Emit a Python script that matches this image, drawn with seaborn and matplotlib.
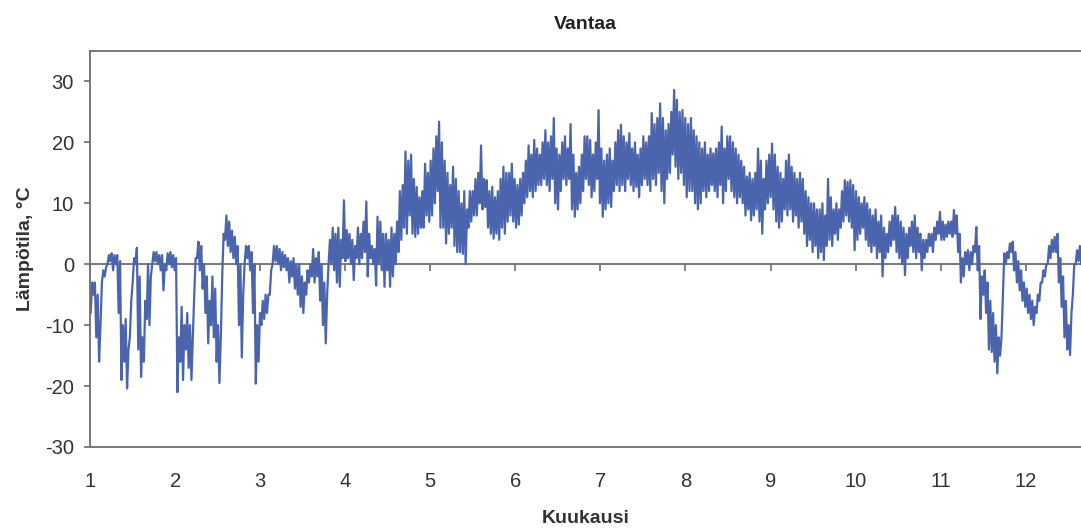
import matplotlib
matplotlib.use("Agg")
import matplotlib.pyplot as plt
import seaborn as sns
import numpy as np
import pandas as pd

# Daily low / high temperatures (°C), day 0 = 1 January
jan_lo = [-8, -5, -12, -16, -3, -2, 0, 0.5, -1, 0, -8, -19, -16, -20.4, -12, -3, 0, -14, -18.5, -16, -9, -10, 0, 0.5, 0, -1, -4.3, -1, 0, -0.5, -1]
jan_hi = [-3, -3, -5, -10, -1, -0.5, 1.5, 1.8, 1.5, 1.5, 0.5, -10, -9, -14, -6, 1, 2.7, -2, -12, -6, 0, -2, 2, 2, 1.5, 1.5, 0, 1.8, 2, 1.5, 1]
feb_lo = [-21, -16, -19, -14, -17, -19, -5, 1, -1, -4, -8, -13, -10, -12, -16, -19.5, -2, 4, 3, 2, 1, 0, -10, -15.3, 0, 1, -1, -8, -19.6, -16]
feb_hi = [-12, -7, -10, -8, -10, -12, 1, 3.7, 3, 0, -2, -6, -2, -4, -10, -12, 5, 8, 7, 5.5, 4.5, 3, 0, -5, 3, 3, 2, 0, -10, -8]
mar_lo = [-10, -9, -8, -5, 0, 0.5, 0, -1, -0.5, -1, -3, -2, -4, -5, -7, -8, -5, -3, -2, -3, -2, -6, -10, -13, 0, 0, -1, -3, -3.7, 1, 0.5]
mar_hi = [-6, -5, -5, -1, 3, 3, 2.5, 2, 1.5, 1, 0.5, 1, 0, 0, -2, -3, -1, 0, 2.5, 1, 2, 0, -3, -5, 4, 6, 5, 6, 4, 10.5, 5.6]
apr_lo = [1, 0, -2.6, 1, 0, 1, 2, -2, 1, 0, -3.5, 0, -1, -3.7, -1, -3.7, -2, 0, 2, 4, 6, 5, 8, 5, 4.5, 5, 6, 6, 8, 7]
apr_hi = [5, 4, 3, 6, 5, 7, 10.3, 5, 3, 2.5, 7.8, 7, 5, 5, 4, 6, 5, 7, 12, 13, 18.5, 17, 18, 14, 12.7, 11, 12, 16.5, 15, 17]
may_lo = [8, 10, 12, 6, 6, 3.4, 5, 6, 3, 2, 2, 1.7, 0, 6, 7, 8, 8, 10, 9, 9.4, 6, 5, 4.2, 5, 4, 6, 5, 7, 8, 7, 6]
may_hi = [19, 21, 23.4, 20, 17, 15, 13, 16, 14, 12, 10, 12, 9, 12, 12, 14, 15, 19.5, 14, 13.8, 12, 12.7, 11, 12, 14, 16, 15, 15, 16.5, 14, 13]
jun_lo = [6.5, 8, 10, 11, 12, 11, 12, 13, 13, 14, 13, 12, 14, 10, 9, 12, 14, 13, 14, 9, 7.8, 9, 10, 12, 14, 13, 11, 12, 14, 10]
jun_hi = [14, 15, 17, 19.5, 18, 20.4, 19, 18, 20, 22, 20, 21, 24, 19, 18, 20, 21, 19, 23, 18, 15, 16, 18, 21, 21, 20.4, 18, 20, 25.3, 19]
jul_lo = [7.8, 9, 10, 9.4, 12, 13, 12, 13, 12, 14, 13, 12, 12.7, 11, 13, 14, 13, 12, 14, 13, 15, 12, 10, 14, 15, 18, 16, 14, 15, 13, 11]
jul_hi = [17, 18, 19, 17, 20, 22, 22.9, 21, 20, 21.5, 19, 20, 18, 19, 21, 20, 21, 24.8, 23, 24, 26.4, 24, 22, 23, 25, 28.6, 27, 25, 25.3, 24, 23]
aug_lo = [12, 12, 10, 9, 10, 12, 11, 12, 13, 12, 11, 13, 10, 12, 14, 12, 11, 10, 11, 10, 8, 9, 7.2, 8, 9, 7, 5, 9, 10, 11]
aug_hi = [24, 22, 21, 20, 19, 20, 18, 19, 18.2, 19, 20, 22.6, 19, 21, 21, 20, 19, 18, 17, 16, 14.4, 15, 14, 15, 19, 17, 14, 17, 18, 19.8]
sep_lo = [9, 7, 6, 7, 9, 8, 9, 7, 8, 6, 7, 5, 3, 4, 2, 3, 1, 2, 0.7, 3, 4, 3, 5, 4, 6, 7, 8, 7, 6, 2.3]
sep_hi = [18, 16, 15, 14, 17, 18, 16, 15, 14, 15, 14, 12, 11, 10, 10, 9, 9, 10, 8, 14, 11, 9, 10, 9, 12, 13.8, 13.5, 13.8, 13, 12]
oct_lo = [4, 5, 6, 4, 3, 2, 3, 1, 2, -2, 1, 2, 3, 4, 2, 1, 0, -1.8, 1, 3, 2, 1, 2, -1, 1, 2, 3, 2, 4, 5, 4]
oct_hi = [11, 10, 11, 10, 9, 8, 9, 7, 8, 6, 5, 7, 8, 9.4, 8, 7, 6, 5, 6, 7, 8, 6, 5, 4, 4, 5, 5, 6, 7, 8.6, 7]
nov_lo = [4, 4.5, 5, 4.5, 5, 2, -3, -2, 0, -1, 0, 2, -1, -9, -5, -8, -14, -14.4, -16, -17.9, -15, -5, 0, 1, 2, -1, -3, -4.3, -6, -7]
nov_hi = [6.5, 7, 7, 8.9, 8, 5, 1, 2, 2.3, 2, 3, 6.1, 3, -2, -1, -3, -6, -8, -10, -12, -12, 1.8, 2, 3.4, 3.7, 2, 0.5, -1, -3, -4]
dec_lo = [-8, -9, -10, -8, -6, -3, -2, 0, 1, 2, 2, -3, -7, -12, -14, -14.9, -5, 0, 0.5, 0]
dec_hi = [-5, -6, -7, -5, -3, -1, 0, 3, 4, 4.5, 5, 1, -2, -6, -10, -8, 0, 2.3, 3, 2]

month_ticks = list(range(1, 13))
days_per_month = 30.4

lows = jan_lo + feb_lo + mar_lo + apr_lo + may_lo + jun_lo + jul_lo + aug_lo + sep_lo + oct_lo + nov_lo + dec_lo
highs = jan_hi + feb_hi + mar_hi + apr_hi + may_hi + jun_hi + jul_hi + aug_hi + sep_hi + oct_hi + nov_hi + dec_hi

xs, ts = [], []
for d, (lo, hi) in enumerate(zip(lows, highs)):
    xs.append(1 + (d + 0.25) / days_per_month)
    ts.append(lo)
    xs.append(1 + (d + 0.75) / days_per_month)
    ts.append(hi)
df = pd.DataFrame({"Kuukausi": xs, "Lampotila": ts})

sns.set_theme(style="white")
plt.rcParams['font.family'] = ['Liberation Sans', 'DejaVu Sans']
plt.rcParams['axes.unicode_minus'] = False

fig = plt.figure(figsize=(10.81, 5.29), dpi=100)
ax = fig.add_axes([90 / 1081, 1 - 447 / 529, 1 - 90 / 1081, (447 - 51) / 529])

sns.lineplot(data=df, x="Kuukausi", y="Lampotila", ax=ax, color="#4A64AE",
             linewidth=1.6, estimator=None, sort=False)

ax.set_xlim(1, 12.65)
ax.set_ylim(-30, 35)
ax.set_yticks([-30, -20, -10, 0, 10, 20, 30])
ax.set_xticks(month_ticks)
ax.set_xticklabels([str(m) for m in month_ticks])

spine_col = "#6e6e6e"
for s in ["left", "top", "bottom"]:
    ax.spines[s].set_color(spine_col)
    ax.spines[s].set_linewidth(1.3)
ax.spines["right"].set_visible(False)

ax.tick_params(axis="y", direction="out", length=4.5, width=1.2, color=spine_col,
               labelsize=14.5, labelcolor="#333333", pad=7, left=True)
ax.tick_params(axis="x", length=0, labelsize=14.5, labelcolor="#333333", pad=18)

# zero line with month ticks
zero_frac = (0 - (-30)) / 65
sec = ax.secondary_xaxis(zero_frac)
sec.set_xticks(month_ticks)
sec.set_xticklabels([])
sec.spines["bottom"].set_color(spine_col)
sec.spines["bottom"].set_linewidth(1.3)
sec.tick_params(axis="x", direction="out", length=5, width=1.2, color=spine_col)

ax.set_xlabel("Kuukausi", fontsize=14, fontweight="bold", color="#333333", labelpad=14)
ax.set_ylabel("Lämpötila, °C", fontsize=14, fontweight="bold", color="#333333", labelpad=8)
ax.set_title("Vantaa", fontsize=14, fontweight="bold", color="#222222", pad=16)

fig.savefig("out.png", dpi=100)
